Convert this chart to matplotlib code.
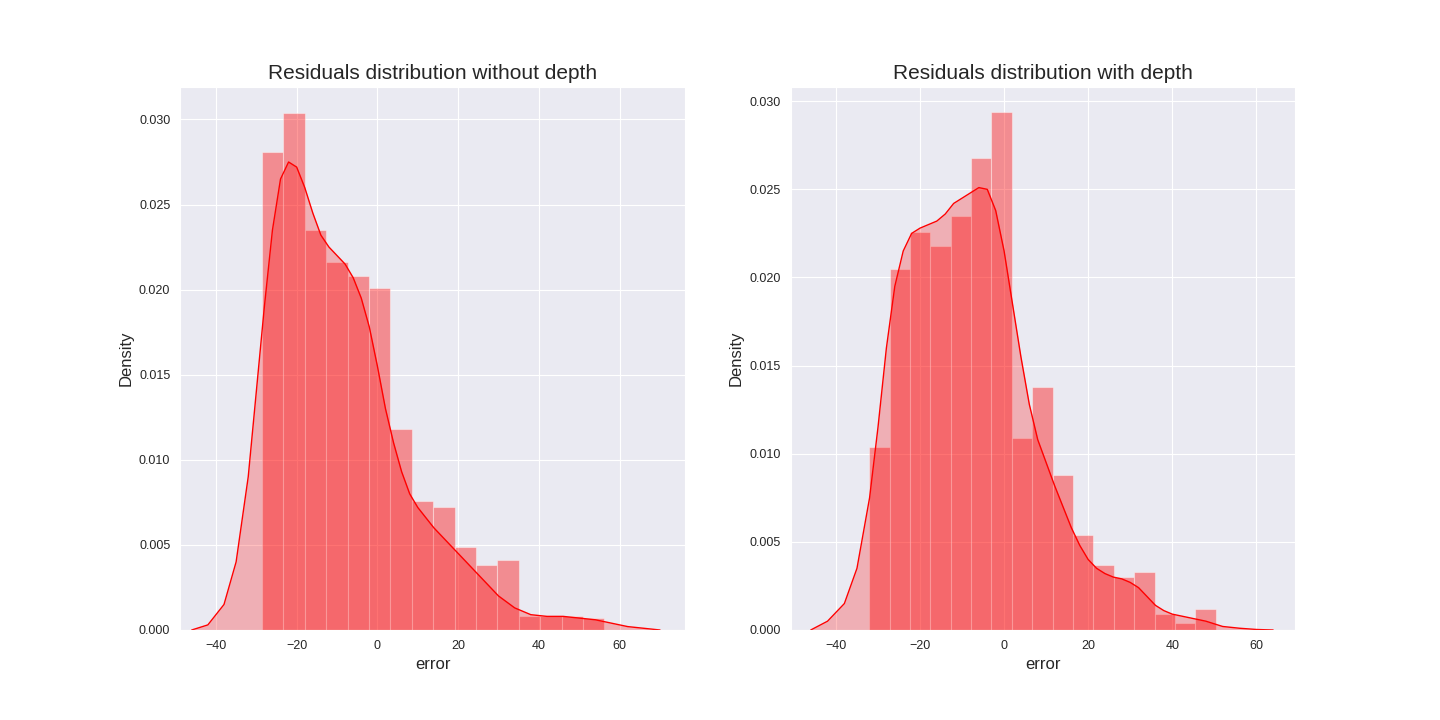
import matplotlib
matplotlib.use("Agg")
import matplotlib.pyplot as plt
import seaborn as sns
import numpy as np

sns.set_style("darkgrid")
plt.rcParams['font.family'] = ['Arial', 'Liberation Sans', 'DejaVu Sans']

# Left: without depth
l_start, l_width = -28.6, 5.3
l_heights = [0.0281, 0.0304, 0.0235, 0.0216, 0.0208, 0.0201, 0.0118, 0.0076,
             0.0072, 0.0049, 0.0038, 0.0041, 0.0008, 0.0008, 0.0008, 0.0007]
l_kx = [-46, -42, -38, -35, -32, -30, -28, -26, -24, -22, -20, -18, -16, -14, -12, -10,
        -8, -6, -4, -2, 0, 2, 4, 6, 8, 10, 12, 14, 16, 18, 20, 22, 24, 26, 28, 30,
        34, 38, 42, 46, 50, 54, 58, 62, 66, 70]
l_ky = [0, 0.0003, 0.0015, 0.004, 0.009, 0.014, 0.019, 0.0235, 0.0265, 0.0275, 0.0272,
        0.026, 0.0245, 0.0232, 0.0225, 0.022, 0.0215, 0.0207, 0.0195, 0.0178, 0.0155,
        0.013, 0.011, 0.0093, 0.008, 0.0072, 0.0066, 0.006, 0.0055, 0.005, 0.0045,
        0.004, 0.0035, 0.003, 0.0025, 0.002, 0.0013, 0.0009, 0.0008, 0.0008, 0.0007,
        0.0006, 0.0004, 0.0002, 0.0001, 0]

# Right: with depth
r_start, r_width = -32.1, 4.85
r_heights = [0.0104, 0.0205, 0.0226, 0.0218, 0.0235, 0.0268, 0.0294, 0.0109, 0.0138,
             0.0088, 0.0054, 0.0037, 0.0030, 0.0033, 0.0009, 0.0004, 0.0012]
r_kx = [-46, -42, -38, -35, -32, -30, -28, -26, -24, -22, -20, -18, -16, -14, -12, -10,
        -8, -6, -4, -2, 0, 2, 4, 6, 8, 10, 12, 14, 16, 18, 20, 22, 24, 26, 28, 30, 32,
        34, 36, 38, 40, 44, 48, 52, 56, 60, 64]
r_ky = [0, 0.0005, 0.0015, 0.0035, 0.0075, 0.0115, 0.016, 0.0195, 0.0215, 0.0225,
        0.0228, 0.023, 0.0232, 0.0236, 0.0242, 0.0245, 0.0248, 0.0251, 0.025, 0.0238,
        0.0215, 0.0185, 0.0155, 0.0128, 0.0108, 0.0095, 0.0082, 0.007, 0.0058, 0.0048,
        0.004, 0.0035, 0.0032, 0.003, 0.0029, 0.0027, 0.0024, 0.0019, 0.0014, 0.0011,
        0.0009, 0.0007, 0.0005, 0.0002, 0.0001, 0.00003, 0]

fig = plt.figure(figsize=(14.4, 7.2), dpi=100)
ax1 = fig.add_axes([0.125, 0.125, 0.351, 0.754])
ax2 = fig.add_axes([0.549, 0.125, 0.350, 0.754])

def draw(ax, start, width, heights, kx, ky, title, xlim, ylim):
    lefts = start + width * np.arange(len(heights))
    ax.bar(lefts, heights, width=width, align='edge', color='red', alpha=0.4,
           edgecolor='white', linewidth=0.8)
    ax.fill_between(kx, ky, color='red', alpha=0.25, linewidth=0)
    ax.plot(kx, ky, color='red', linewidth=1)
    ax.set_xlim(*xlim)
    ax.set_ylim(*ylim)
    ax.set_title(title, fontsize=15)
    ax.set_xlabel('error', fontsize=12)
    ax.set_ylabel('Density', fontsize=12)
    ax.set_xticks([-40, -20, 0, 20, 40, 60])
    ax.tick_params(labelsize=9)

draw(ax1, l_start, l_width, l_heights, l_kx, l_ky, 'Residuals distribution without depth',
     (-48.9, 76.3), (0, 0.0319))
draw(ax2, r_start, r_width, r_heights, r_kx, r_ky, 'Residuals distribution with depth',
     (-50.8, 69.1), (0, 0.0308))

fig.savefig('out.png', dpi=100)
